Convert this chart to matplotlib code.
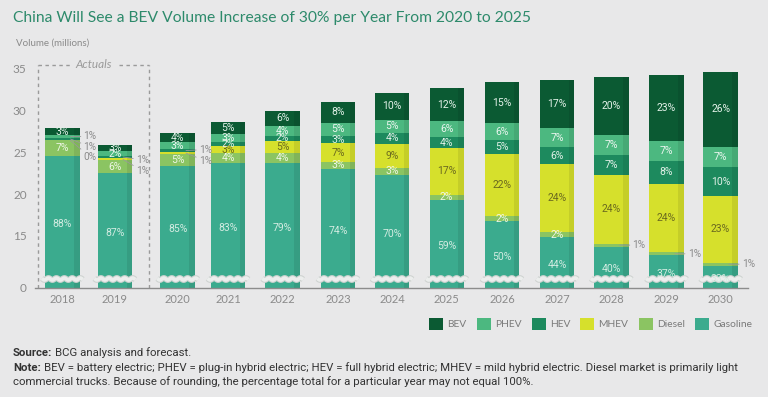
import matplotlib
matplotlib.use('Agg')
import matplotlib.pyplot as plt
import numpy as np
from matplotlib import font_manager as fm
from matplotlib.patches import Patch

# ---------------- data ----------------
years = ['2018', '2019', '2020', '2021', '2022', '2023', '2024',
         '2025', '2026', '2027', '2028', '2029', '2030']
totals = [27.9, 25.9, 27.3, 28.6, 30.0, 31.05, 32.1, 32.7, 33.5, 33.7, 34.0, 34.3, 34.7]
gasoline = [88, 87, 85, 83, 79, 74, 70, 59, 50, 44, 40, 37, 33]
diesel = [7, 6, 5, 4, 4, 3, 3, 2, 2, 2, 1, 1, 1]
mhev = [0, 1, 1, 3, 5, 7, 9, 17, 22, 24, 24, 24, 23]
hev = [1, 1, 1, 2, 2, 3, 4, 4, 5, 6, 7, 8, 10]
phev = [1, 2, 3, 3, 4, 5, 5, 6, 6, 7, 7, 7, 7]
bev = [3, 3, 4, 5, 6, 8, 10, 12, 15, 17, 20, 23, 26]
series_names = ['Gasoline', 'Diesel', 'MHEV', 'HEV', 'PHEV', 'BEV']
legend_order = ['BEV', 'PHEV', 'HEV', 'MHEV', 'Diesel', 'Gasoline']
y_tick_labels = ['0', '15', '20', '25', '30', '35']

# ---------------- layout / style ----------------
x_pos = [-2.11, -1.15, 0, 0.92, 1.92, 2.93, 3.92, 4.92, 5.93, 6.94, 7.93, 8.94, 9.93]
colors = {'BEV': '#0b5a33', 'PHEV': '#4cb880', 'HEV': '#1d8a5e',
          'MHEV': '#d6e02c', 'Diesel': '#8bc462', 'Gasoline': '#3bab8e'}
txtcol = {'BEV': '#e2f1e8', 'PHEV': '#eaf6ef', 'HEV': '#e2f1e8',
          'MHEV': '#6b6a1f', 'Diesel': '#eef6e6', 'Gasoline': '#d3ece2'}
BG = '#e8e8e9'
GRAY = '#8a8a8a'

avail = {f.name for f in fm.fontManager.ttflist}
narrow = 'Liberation Sans Narrow' if 'Liberation Sans Narrow' in avail else 'Roboto'
main = 'Lato' if 'Lato' in avail else 'DejaVu Sans'
plt.rcParams['font.family'] = [main, 'DejaVu Sans']
nfam = [narrow, 'DejaVu Sans']

W, H = 768, 397
fig = plt.figure(figsize=(W / 100, H / 100), dpi=100, facecolor=BG)

YB = 8.77          # value at the broken axis bottom (shown as "0")
YT = 36.0
ax = fig.add_axes([35 / W, 1 - 288 / H, 713 / W, (288 - 60.65) / H])
ax.set_facecolor(BG)
XL, XR = -2.61, 10.43
ax.set_xlim(XL, XR)
ax.set_ylim(YB, YT)
px_x = 713 / (XR - XL)
px_y = (288 - 60.65) / (YT - YB)

bw = 0.63
data = {'Gasoline': gasoline, 'Diesel': diesel, 'MHEV': mhev,
        'HEV': hev, 'PHEV': phev, 'BEV': bev}

# outside labels: (year index, series) -> vertical label offset in pixels (up positive)
outside = {(0, 'PHEV'): 0, (0, 'HEV'): -8, (0, 'MHEV'): -17,
           (1, 'HEV'): -3, (1, 'MHEV'): -12,
           (2, 'HEV'): 1, (2, 'MHEV'): -8,
           (10, 'Diesel'): 0, (11, 'Diesel'): 0, (12, 'Diesel'): 0}

for i, x in enumerate(x_pos):
    s = sum(data[n][i] for n in series_names)
    bottom = 0.0
    for n in series_names:
        pct = data[n][i]
        h = totals[i] * pct / s
        ax.bar(x, h, bw, bottom=bottom, color=colors[n], linewidth=0, zorder=2)
        mid = bottom + h / 2
        if (i, n) in outside:
            dy = outside[(i, n)]
            x0 = x + bw * 0.22
            ax.annotate(f'{pct}%', xy=(x0, mid),
                        xytext=((x + bw / 2 - x0) * px_x + 4, dy),
                        textcoords='offset pixels', fontsize=7.3, color=GRAY,
                        family=nfam, va='center', ha='left', zorder=6,
                        arrowprops=dict(arrowstyle='-', color='#9a9a9a', lw=0.6,
                                        shrinkA=0, shrinkB=0.5))
        elif pct > 0:
            ly = mid
            if n == 'Gasoline':
                ly = (YB + bottom + h) / 2 - 2 / px_y
            ax.text(x, ly, f'{pct}%', ha='center', va='center', fontsize=7.5,
                    color=txtcol[n], family=nfam, zorder=5)
        bottom += h
    # darker right strip
    ax.bar(x + bw / 2 - 0.05, totals[i], 0.1, bottom=0, color='black',
           alpha=0.08, linewidth=0, zorder=3)
    # axis break wave
    xx = np.linspace(x - bw / 2 - 0.06, x + bw / 2 + 0.06, 80)
    yy = YB + 9 / px_y + (1.0 / px_y) * np.sin((xx - x) / 0.145 * 2 * np.pi)
    ax.plot(xx, yy, color='#cfd3d1', lw=4.2, zorder=4, solid_capstyle='butt')
    ax.plot(xx, yy, color='#eceeed', lw=2.6, zorder=4, solid_capstyle='butt')

# axes styling
for sp in ['left', 'right', 'top']:
    ax.spines[sp].set_visible(False)
ax.spines['bottom'].set_color('#8c8c8c')
ax.spines['bottom'].set_linewidth(1)
ax.set_yticks([YB, 15, 20, 25, 30, 35])
ax.set_yticklabels(y_tick_labels)
ax.set_xticks(x_pos)
ax.set_xticklabels(years)
ax.tick_params(axis='y', length=0, pad=6, labelsize=8.5, labelcolor=GRAY)
ax.tick_params(axis='x', length=0, pad=4, labelsize=8, labelcolor=GRAY)

# actuals dashed box
dash = dict(color='#9a9a9a', lw=1, linestyle=(0, (2.5, 2.5)), clip_on=False, zorder=1)
xl, xr, yt = -2.553, -0.52, 35.48
ax.plot([xl, xl], [YB, yt], **dash)
ax.plot([xr, xr], [YB, yt], **dash)
ax.plot([xl, -1.973], [yt, yt], **dash)
ax.plot([-1.076, xr], [yt, yt], **dash)
ax.text(-1.54, yt, 'Actuals', ha='center', va='center', fontsize=8.5,
        style='italic', color='#9a9a9a')

# title and axis label
title = fig.text(13 / W, 1 - 18 / H, 'China Will See a BEV Volume Increase of 30% per Year From 2020 to 2025',
                 fontsize=12, color='#2d8a6b', va='center', ha='left')
fig.text(16 / W, 1 - 43 / H, 'Volume (millions)', fontsize=7, color=GRAY,
         va='center', ha='left')

# legend
handles = [Patch(facecolor=colors[n], edgecolor='none') for n in legend_order]
fig.legend(handles, legend_order,
           loc='center right', bbox_to_anchor=(752 / W, 1 - 324 / H), ncol=6,
           frameon=False, fontsize=7.4, handlelength=1.35, handleheight=1.35,
           handletextpad=0.4, columnspacing=1.0, borderpad=0, borderaxespad=0,
           labelcolor='#7a7a7a')

# footnotes
renderer = fig.canvas.get_renderer()


def fit(t, target):
    w = t.get_window_extent(renderer).width
    t.set_fontsize(t.get_fontsize() * target / w)


fit(title, 517)

note1 = 'BEV = battery electric; PHEV = plug-in hybrid electric; HEV = full hybrid electric; MHEV = mild hybrid electric. Diesel market is primarily light'
probe = fig.text(0, 0, 'Note: ' + note1, fontsize=8, family=nfam)
fit(probe, 724)
fs = probe.get_fontsize()
probe.remove()


def rich(y, bold, rest):
    b = fig.text(13 / W, 1 - y / H, bold, fontsize=fs, family=nfam, weight='bold',
                 color='#333333', va='center', ha='left')
    bx = b.get_window_extent(renderer).x1
    fig.text((bx + 3) / W, 1 - y / H, rest, fontsize=fs, family=nfam,
             color='#333333', va='center', ha='left')


rich(353, 'Source:', 'BCG analysis and forecast.')
rich(368, 'Note:', note1)
fig.text(13 / W, 1 - 382 / H, 'commercial trucks. Because of rounding, the percentage total for a particular year may not equal 100%.',
         fontsize=fs, family=nfam, color='#333333', va='center', ha='left')

fig.savefig('out.png', dpi=100, facecolor=BG)
